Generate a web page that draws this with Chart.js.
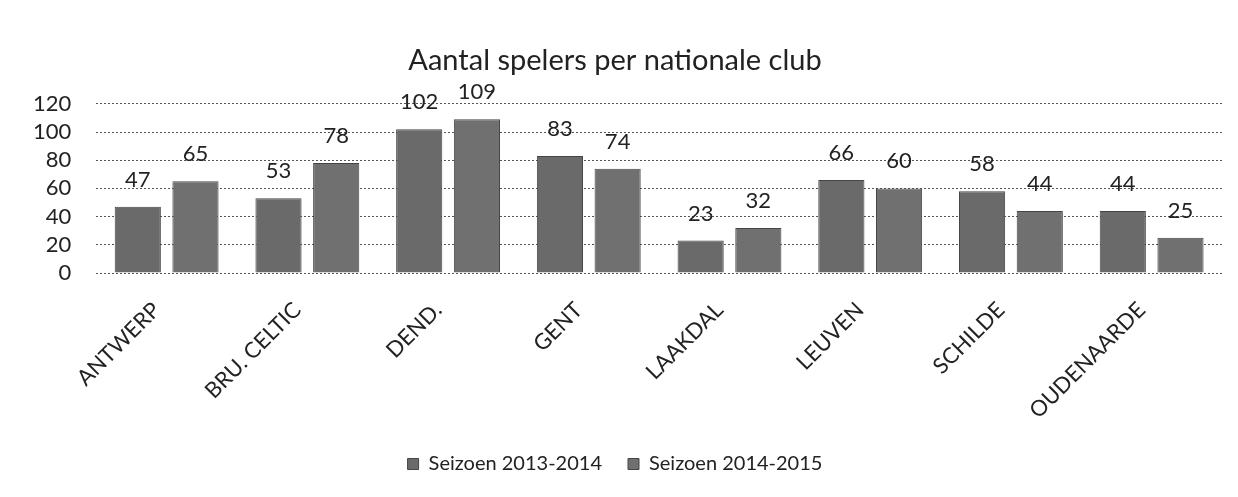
<!DOCTYPE html>
<html><head><meta charset="utf-8">
<script src="https://cdn.jsdelivr.net/npm/chart.js@4.4.1/dist/chart.umd.min.js"></script>
<style>html,body{margin:0;padding:0;background:#fff}canvas{display:block}</style>
</head><body>
<canvas id="c" width="1238" height="497"></canvas>
<script>
const categories = ['ANTWERP','BRU. CELTIC','DEND.','GENT','LAAKDAL','LEUVEN','SCHILDE','OUDENAARDE'];
const season1 = [47,53,102,83,23,66,58,44];
const season2 = [65,78,109,74,32,60,44,25];
const seriesNames = ['Seizoen 2013-2014','Seizoen 2014-2015'];
const yTicks = [0,20,40,60,80,100,120];
const FONT = 'Lato, "Open Sans", sans-serif';

const labelPlugin = {
  id:'vals',
  afterDatasetsDraw(chart){
    const ctx = chart.ctx;
    ctx.save();
    ctx.font = '22px ' + FONT;
    ctx.fillStyle = '#222';
    ctx.textAlign = 'center';
    ctx.textBaseline = 'middle';
    chart.data.datasets.forEach((ds,i)=>{
      chart.getDatasetMeta(i).data.forEach((bar,j)=>{
        ctx.fillText(String(ds.data[j]), bar.x, bar.y - 27);
      });
    });
    ctx.restore();
  }
};

new Chart(document.getElementById('c'), {
  type:'bar',
  data:{
    labels:categories,
    datasets:[
      {label:seriesNames[0], data:season1, backgroundColor:'#6a6a6a', borderColor:'#454545', borderWidth:1, barPercentage:0.8, categoryPercentage:0.82},
      {label:seriesNames[1], data:season2, backgroundColor:'#707070', borderColor:'#454545', borderWidth:1, barPercentage:0.8, categoryPercentage:0.82}
    ]
  },
  options:{
    responsive:false,
    animation:false,
    layout:{padding:{left:8,right:16,top:0,bottom:13}},
    plugins:{
      title:{display:true, text:'Aantal spelers per nationale club', color:'#222', font:{family:FONT,size:29,weight:'normal'}, padding:{top:43,bottom:26}},
      legend:{position:'bottom', labels:{color:'#222', font:{family:FONT,size:20}, boxWidth:11, boxHeight:11, padding:26}},
      tooltip:{enabled:false}
    },
    scales:{
      x:{
        grid:{display:false},
        border:{display:false},
        afterFit(axis){ axis.height = 155; },
        ticks:{color:'#222', font:{family:FONT,size:22}, minRotation:45, maxRotation:45, padding:16, labelOffset:-10, autoSkip:false}
      },
      y:{
        min:0, max:120,
        afterBuildTicks(axis){ axis.ticks = yTicks.map(v=>({value:v})); },
        grid:{color:'#555', lineWidth:1, drawTicks:false},
        border:{display:false, dash:[2,2]},
        ticks:{color:'#222', font:{family:FONT,size:22}, padding:25, autoSkip:false}
      }
    }
  },
  plugins:[labelPlugin]
});
</script>
</body></html>
